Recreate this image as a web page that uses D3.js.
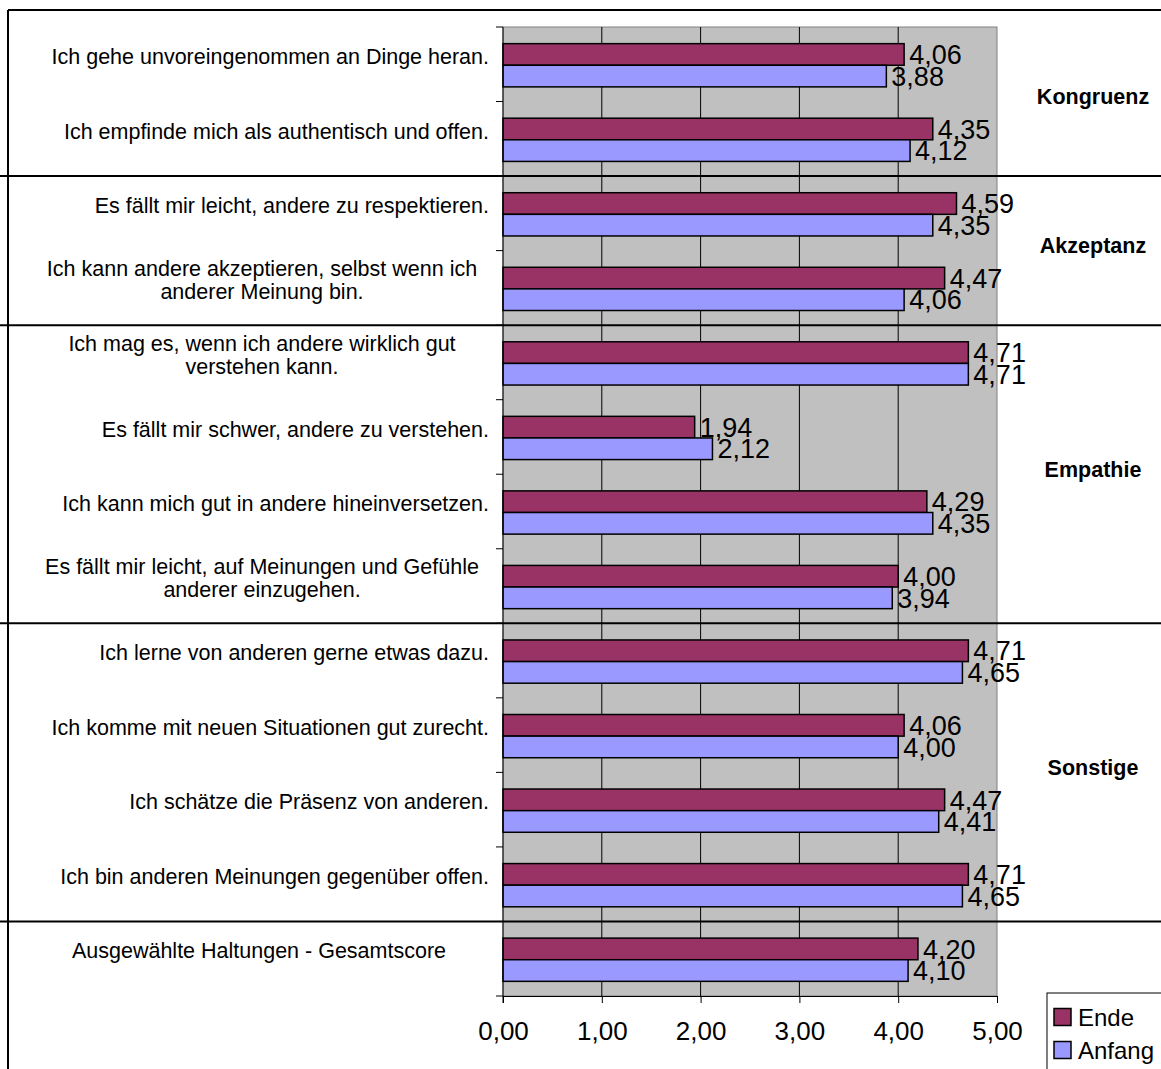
<!DOCTYPE html>
<html>
<head>
<meta charset="utf-8">
<script src="https://cdn.jsdelivr.net/npm/d3@7"></script>
<style>
  body { margin: 0; background: #fff; }
  svg { display: block; font-family: "Liberation Sans", Arial, sans-serif; }
</style>
</head>
<body>
<svg id="chart" width="1161" height="1069"></svg>
<script>
// categories, top to bottom (\n = line break like in the original)
var categories = [
  "Ich gehe unvoreingenommen an Dinge heran.",
  "Ich empfinde mich als authentisch und offen.",
  "Es fällt mir leicht, andere zu respektieren.",
  "Ich kann andere akzeptieren, selbst wenn ich\nanderer Meinung bin.",
  "Ich mag es, wenn ich andere wirklich gut\nverstehen kann.",
  "Es fällt mir schwer, andere zu verstehen.",
  "Ich kann mich gut in andere hineinversetzen.",
  "Es fällt mir leicht, auf Meinungen und Gefühle\nanderer einzugehen.",
  "Ich lerne von anderen gerne etwas dazu.",
  "Ich komme mit neuen Situationen gut zurecht.",
  "Ich schätze die Präsenz von anderen.",
  "Ich bin anderen Meinungen gegenüber offen.",
  "Ausgewählte Haltungen - Gesamtscore"
];
var ende =   [4.06, 4.35, 4.59, 4.47, 4.71, 1.94, 4.29, 4.00, 4.71, 4.06, 4.47, 4.71, 4.20];
var anfang = [3.88, 4.12, 4.35, 4.06, 4.71, 2.12, 4.35, 3.94, 4.65, 4.00, 4.41, 4.65, 4.10];
var seriesNames = ["Ende", "Anfang"];
var seriesColors = ["#993366", "#9999FF"];
var xTicks = [0, 1, 2, 3, 4, 5];
// groups: label + first / last category index
var groupNames = ["Kongruenz", "Akzeptanz", "Empathie", "Sonstige"];
var groupFirst = [0, 2, 4, 8];
var groupLast  = [1, 3, 7, 11];

var de = d3.formatLocale({ decimal: ",", thousands: ".", grouping: [3], currency: ["", " €"] });
var fmt = de.format(".2f");

var svg = d3.select("#chart");
var W = 1161, H = 1069;
var plot = { left: 503, right: 997, top: 27, bottom: 996 };

var x = d3.scaleLinear().domain([0, 5]).range([plot.left, plot.right]);
var y = d3.scaleBand().domain(d3.range(categories.length)).range([plot.top, plot.bottom]);
var band = y.bandwidth();
var barH = band * 0.29;
var barOff = (band - 2 * barH) / 2 + 1;

// outer frame (top + left border)
svg.append("line").attr("x1", 8).attr("x2", W).attr("y1", 10).attr("y2", 10)
  .attr("stroke", "#000").attr("stroke-width", 2);
svg.append("line").attr("x1", 8).attr("x2", 8).attr("y1", 10).attr("y2", H)
  .attr("stroke", "#000").attr("stroke-width", 2);

// plot background
svg.append("rect").attr("x", plot.left).attr("y", plot.top)
  .attr("width", plot.right - plot.left).attr("height", plot.bottom - plot.top)
  .attr("fill", "#C0C0C0").attr("stroke", "#808080").attr("stroke-width", 1);

// vertical gridlines
svg.append("g").selectAll("line").data(xTicks.slice(1, -1)).join("line")
  .attr("x1", function(d) { return x(d); }).attr("x2", function(d) { return x(d); })
  .attr("y1", plot.top).attr("y2", plot.bottom)
  .attr("stroke", "#000").attr("stroke-width", 1);

// group separators run across the whole picture
var sepIdx = groupLast.map(function(d) { return d + 1; });
svg.append("g").selectAll("line").data(sepIdx).join("line")
  .attr("x1", 0).attr("x2", W)
  .attr("y1", function(d) { return y(d); }).attr("y2", function(d) { return y(d); })
  .attr("stroke", "#000").attr("stroke-width", 2);

// bars
var rows = categories.map(function(c, i) { return { i: i, vals: [ende[i], anfang[i]] }; });
var rowG = svg.append("g").selectAll("g").data(rows).join("g");
seriesNames.forEach(function(s, k) {
  rowG.append("rect")
    .attr("x", x(0))
    .attr("y", function(d) { return y(d.i) + barOff + k * barH; })
    .attr("width", function(d) { return x(d.vals[k]) - x(0); })
    .attr("height", barH)
    .attr("fill", seriesColors[k])
    .attr("stroke", "#000").attr("stroke-width", 1.5);
});
// value labels
seriesNames.forEach(function(s, k) {
  rowG.append("text")
    .attr("x", function(d) { return x(d.vals[k]) + 5; })
    .attr("y", function(d) { return y(d.i) + barOff + k * barH + barH / 2; })
    .attr("dy", "0.36em")
    .attr("font-size", 27)
    .attr("fill", "#000")
    .text(function(d) { return fmt(d.vals[k]); });
});

// left axis: line + ticks at the category boundaries
svg.append("line").attr("x1", plot.left).attr("x2", plot.left)
  .attr("y1", plot.top).attr("y2", plot.bottom + 7).attr("stroke", "#000");
svg.append("g").selectAll("line").data(d3.range(categories.length + 1)).join("line")
  .attr("x1", plot.left - 7).attr("x2", plot.left)
  .attr("y1", function(d) { return d < categories.length ? y(d) : plot.bottom; })
  .attr("y2", function(d) { return d < categories.length ? y(d) : plot.bottom; })
  .attr("stroke", "#000");

// bottom axis
var xAxis = d3.axisBottom(x).tickValues(xTicks).tickSize(7).tickPadding(19)
  .tickFormat(function(d) { return fmt(d); });
var gx = svg.append("g").attr("transform", "translate(0," + plot.bottom + ")").call(xAxis);
gx.select(".domain").attr("stroke", "#000");
gx.selectAll(".tick line").attr("stroke", "#000");
gx.selectAll(".tick text").attr("font-size", 26).attr("fill", "#000")
  .attr("font-family", "Liberation Sans, Arial, sans-serif");

// category labels
var labelRight = 489;
var lineH = 23;
var catG = svg.append("g").attr("font-size", 21.5).attr("fill", "#000");
categories.forEach(function(c, i) {
  var lines = c.split("\n");
  var cy = y(i) + band / 2 - 8;
  var t = catG.append("text");
  if (lines.length == 1 && i < categories.length - 1) {
    t.attr("text-anchor", "end").attr("x", labelRight).attr("y", cy).attr("dy", "0.36em").text(c);
  } else {
    // wrapped (and total) labels are centred in the label area
    var cx = lines.length == 1 ? 259 : 262;
    lines.forEach(function(l, j) {
      t.append("tspan").attr("text-anchor", "middle").attr("x", cx)
        .attr("y", cy + (j - (lines.length - 1) / 2) * lineH).attr("dy", "0.36em").text(l);
    });
  }
});

// group labels on the right
svg.append("g").selectAll("text").data(groupNames).join("text")
  .attr("x", 1093)
  .attr("y", function(d, i) { return (y(groupFirst[i]) + y(groupLast[i]) + band) / 2 - 5; })
  .attr("dy", "0.36em")
  .attr("text-anchor", "middle")
  .attr("font-size", 21.5).attr("font-weight", "bold").attr("fill", "#000")
  .text(function(d) { return d; });

// legend (cut off at the picture edge like the original)
var lg = svg.append("g").attr("transform", "translate(1047,993)");
lg.append("rect").attr("width", 140).attr("height", 100)
  .attr("fill", "#fff").attr("stroke", "#000").attr("stroke-width", 1);
seriesNames.forEach(function(s, k) {
  var ly = 24 + k * 33;
  lg.append("rect").attr("x", 7).attr("y", ly - 8.5).attr("width", 17).attr("height", 17)
    .attr("fill", seriesColors[k]).attr("stroke", "#000").attr("stroke-width", 1.5);
  lg.append("text").attr("x", 31).attr("y", ly).attr("dy", "0.36em")
    .attr("font-size", 24).attr("fill", "#000").text(s);
});
</script>
</body>
</html>
